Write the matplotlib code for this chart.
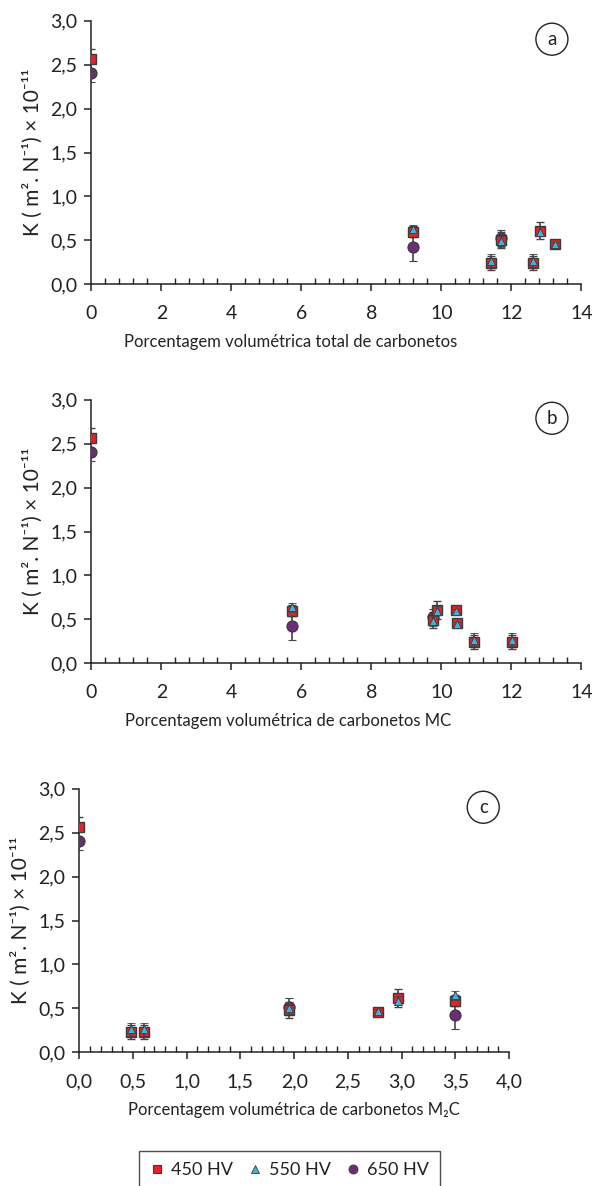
import matplotlib
matplotlib.use("Agg")
import matplotlib.pyplot as plt
from matplotlib.ticker import MultipleLocator, FuncFormatter
from matplotlib.lines import Line2D

plt.rcParams['font.family'] = ['Lato', 'DejaVu Sans']

# painel (a) - porcentagem total de carbonetos
a_x450 = [0, 9.2, 11.41, 11.7, 12.62, 12.83, 13.25]
a_y450 = [2.56, 0.60, 0.24, 0.50, 0.24, 0.61, 0.46]
a_e450 = [0.12, 0.06, 0.08, 0.09, 0.08, 0.10, 0.02]
a_x550 = [9.2, 11.41, 11.7, 12.62, 12.83, 13.25]
a_y550 = [0.63, 0.27, 0.49, 0.27, 0.60, 0.46]
a_e550 = [0.05, 0.07, 0.06, 0.07, 0.05, 0.02]
a_x650 = [0, 9.2, 11.7]
a_y650 = [2.41, 0.43, 0.53]
a_e650 = [0.11, 0.16, 0.09]

# painel (b) - carbonetos MC
b_x450 = [0, 5.72, 9.77, 9.88, 10.42, 10.46, 10.93, 12.03]
b_y450 = [2.56, 0.60, 0.49, 0.61, 0.61, 0.46, 0.24, 0.24]
b_e450 = [0.12, 0.06, 0.09, 0.10, 0.02, 0.02, 0.08, 0.08]
b_x550 = [5.72, 9.77, 9.88, 10.42, 10.46, 10.93, 12.03]
b_y550 = [0.64, 0.48, 0.60, 0.60, 0.45, 0.27, 0.27]
b_e550 = [0.05, 0.06, 0.05, 0.02, 0.02, 0.07, 0.07]
b_x650 = [0, 5.72, 9.77]
b_y650 = [2.41, 0.43, 0.53]
b_e650 = [0.11, 0.16, 0.09]

# painel (c) - carbonetos M2C
c_x450 = [0, 0.48, 0.60, 1.95, 2.78, 2.97, 3.50]
c_y450 = [2.56, 0.23, 0.23, 0.48, 0.46, 0.62, 0.59]
c_e450 = [0.12, 0.08, 0.08, 0.09, 0.02, 0.10, 0.06]
c_x550 = [0.48, 0.60, 1.95, 2.78, 2.97, 3.50]
c_y550 = [0.26, 0.26, 0.50, 0.47, 0.59, 0.65]
c_e550 = [0.07, 0.07, 0.06, 0.02, 0.05, 0.05]
c_x650 = [0, 1.95, 3.50]
c_y650 = [2.41, 0.52, 0.43]
c_e650 = [0.11, 0.10, 0.16]

xlabels = ['Porcentagem volumétrica total de carbonetos',
           'Porcentagem volumétrica de carbonetos MC',
           'Porcentagem volumétrica de carbonetos M₂C']
panel_tags = ['a', 'b', 'c']

red = '#e8202a'
blue = '#3fb3e0'
purple = '#6b2d74'
edge = '#3a3a3a'
ebar = '#444444'
ink = '#222222'

fig = plt.figure(figsize=(5.98, 11.86), dpi=100)
ax_a = fig.add_axes([0.1527, 0.7603, 0.8194, 0.2222])
ax_b = fig.add_axes([0.1527, 0.4407, 0.8194, 0.2222])
ax_c = fig.add_axes([0.1326, 0.1127, 0.7186, 0.2222])

panels = [
    (ax_a, (a_x450, a_y450, a_e450), (a_x550, a_y550, a_e550), (a_x650, a_y650, a_e650)),
    (ax_b, (b_x450, b_y450, b_e450), (b_x550, b_y550, b_e550), (b_x650, b_y650, b_e650)),
    (ax_c, (c_x450, c_y450, c_e450), (c_x550, c_y550, c_e550), (c_x650, c_y650, c_e650)),
]

comma = FuncFormatter(lambda v, p: ('%.1f' % v).replace('.', ','))

for i, (ax, s450, s550, s650) in enumerate(panels):
    # circulo atras, depois quadrado, triangulo por cima
    ax.errorbar(s650[0], s650[1], yerr=s650[2], fmt='o', ms=8, mfc=purple, mec=edge,
                mew=0.8, ecolor=ebar, elinewidth=1.2, capsize=3, capthick=1.2, zorder=3)
    ax.errorbar(s450[0], s450[1], yerr=s450[2], fmt='s', ms=7.5, mfc=red, mec=edge,
                mew=1.0, ecolor=ebar, elinewidth=1.2, capsize=3, capthick=1.2, zorder=4)
    ax.errorbar(s550[0], s550[1], yerr=s550[2], fmt='^', ms=6, mfc=blue, mec=edge,
                mew=0.6, ecolor=ebar, elinewidth=1.2, capsize=3, capthick=1.2, zorder=5)

    ax.set_ylim(0, 3.0)
    ax.yaxis.set_major_locator(MultipleLocator(0.5))
    ax.yaxis.set_major_formatter(comma)
    if i < 2:
        ax.set_xlim(0, 14)
        ax.xaxis.set_major_locator(MultipleLocator(2))
        ax.xaxis.set_minor_locator(MultipleLocator(0.4))
    else:
        ax.set_xlim(0, 4.0)
        ax.xaxis.set_major_locator(MultipleLocator(0.5))
        ax.xaxis.set_minor_locator(MultipleLocator(0.1))
        ax.xaxis.set_major_formatter(comma)

    for side in ['top', 'right']:
        ax.spines[side].set_visible(False)
    for side in ['left', 'bottom']:
        ax.spines[side].set_color(ink)
        ax.spines[side].set_linewidth(1.1)
    ax.tick_params(axis='both', which='major', direction='out', length=5, width=1.1,
                   colors=ink, labelsize=14, labelcolor=ink)
    ax.tick_params(axis='x', which='major', pad=10)
    ax.tick_params(axis='y', which='major', pad=5)
    ax.tick_params(axis='x', which='minor', direction='in', length=4, width=1.0, colors=ink)
    ax.set_xlabel(xlabels[i], fontsize=12, color=ink, labelpad=12)
    ax.set_ylabel('K ( m². N⁻¹) × 10⁻¹¹', fontsize=15, color=ink, labelpad=5)
    ax.text(0.94, 0.93, panel_tags[i], transform=ax.transAxes, fontsize=13.5,
            ha='center', va='center', color=ink,
            bbox=dict(boxstyle='circle,pad=0.4', fc='white', ec=ink, lw=1.0))

# etiquetas x dos paineis a e b ficam deslocadas para a esquerda
ax_a.xaxis.set_label_coords((291 - 91.3) / 490, -0.19)
ax_b.xaxis.set_label_coords((288 - 91.3) / 490, -0.19)
ax_c.xaxis.set_label_coords(0.5, -0.19)

handles = [
    Line2D([], [], ls='none', marker='s', ms=6, mfc=red, mec=edge, mew=0.8),
    Line2D([], [], ls='none', marker='^', ms=5.5, mfc=blue, mec=edge, mew=0.6),
    Line2D([], [], ls='none', marker='o', ms=6.5, mfc=purple, mec=edge, mew=0.6),
]
leg = fig.legend(handles, ['450 HV', '550 HV', '650 HV'], loc='upper center',
                 bbox_to_anchor=(0.4835, 1 - 1142 / 1186), ncol=3, frameon=True,
                 fancybox=False, edgecolor=ink, fontsize=13, handletextpad=0.4,
                 columnspacing=0.8, borderpad=0.6, handlelength=0.8)
leg.get_frame().set_linewidth(1.0)
for t in leg.get_texts():
    t.set_color(ink)

plt.savefig('out.png', dpi=100)
